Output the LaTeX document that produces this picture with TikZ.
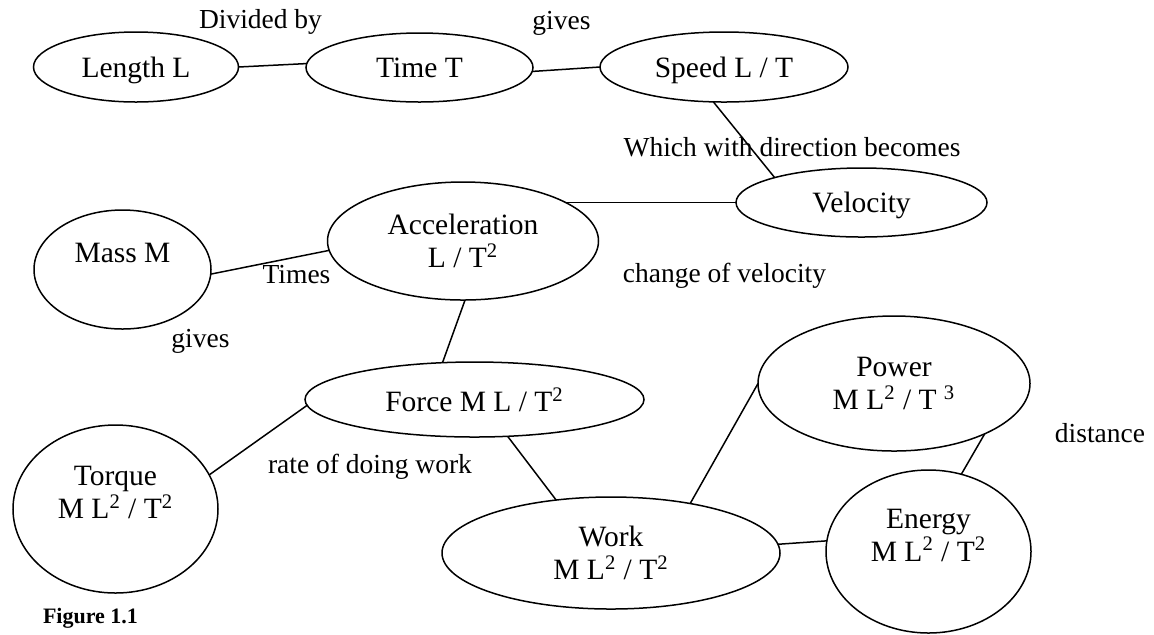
\documentclass[tikz,border=0pt]{standalone}
\usepackage{fontspec}
\setmainfont{Liberation Serif}
\usetikzlibrary{shapes.geometric}

\begin{document}
\begin{tikzpicture}[x=0.5pt,y=-0.5pt,line width=0.75pt,
	oval/.style={draw,ellipse,inner sep=0pt,outer sep=0pt,text depth=0pt,align=center,font=\fontsize{14.75}{16.5}\selectfont},
	lbl/.style={inner sep=0pt,font=\fontsize{13.75}{16}\selectfont}]
		\useasboundingbox (0,0) rectangle (1154,634);
		\node [oval,minimum width=102.5pt,minimum height=35pt] (len) at (136,67) {Length L};
		\node [oval,minimum width=113.5pt,minimum height=34.5pt] (time) at (419.5,67.5) {Time T};
		\node [oval,minimum width=124pt,minimum height=35pt] (speed) at (724,67) {Speed L / T};
		\node [oval,minimum width=125.5pt,minimum height=34.5pt] (vel) at (861.5,202.5) {Velocity};
		\node [oval,minimum width=135.5pt,minimum height=59pt] (acc) at (463,241) {Acceleration\\L / T\textsuperscript{2}};
		\node [oval,minimum width=88.5pt,minimum height=59.5pt] (mass) at (122.5,269.5) {Mass M\\\mbox{}};
		\node [oval,minimum width=169.5pt,minimum height=37.5pt] (force) at (474.5,399.5) {Force M L / T\textsuperscript{2}};
		\node [oval,minimum width=102.5pt,minimum height=84pt] (torque) at (115.5,509) {Torque\\M L\textsuperscript{2} / T\textsuperscript{2}\\\mbox{}};
		\node [oval,minimum width=169pt,minimum height=56pt] (work) at (611,553) {Work\\M L\textsuperscript{2} / T\textsuperscript{2}};
		\node [oval,minimum width=136pt,minimum height=67.5pt] (power) at (894,383.5) {Power\\M L\textsuperscript{2} / T \textsuperscript{3}};
		\node [oval,minimum width=102.5pt,minimum height=81.5pt] (energy) at (928.5,551.5) {Energy\\M L\textsuperscript{2} / T\textsuperscript{2}\\\mbox{}};
		\node [lbl] (divby) at (260.5,21.5) {Divided by};
		\node [lbl] (gives1) at (561.5,23.5) {gives};
		\node [lbl] (withdir) at (792,147.5) {Which with direction becomes};
		\node [lbl] (times) at (296.5,275) {Times};
		\node [lbl] (change) at (724.5,276) {change of velocity};
		\node [lbl] (gives2) at (200.5,341) {gives};
		\node [lbl] (rate) at (370,467) {rate of doing work};
		\node [lbl] (dist) at (1100,433) {distance};
		\node [inner sep=0pt,font=\fontsize{11}{13}\selectfont\bfseries] (fig) at (90.5,618.5) {Figure 1.1};
		\draw (len.east)--(time.178);
		\draw (time.-2)--(speed.west);
		\draw (speed.-107.5)--(vel.164);
		\draw (acc.20 |- vel.west)--(vel.west);
		\draw (mass.-3)--(acc.184);
		\draw (acc.-88)--(force.131);
		\draw (force.182)--(torque.20);
		\draw (force.-48)--(work.136);
		\draw (work.32)--(power.west);
		\draw (work.3)--(energy.174);
		\draw (power.-29)--(energy.67);
		\end{tikzpicture}
\end{document}
